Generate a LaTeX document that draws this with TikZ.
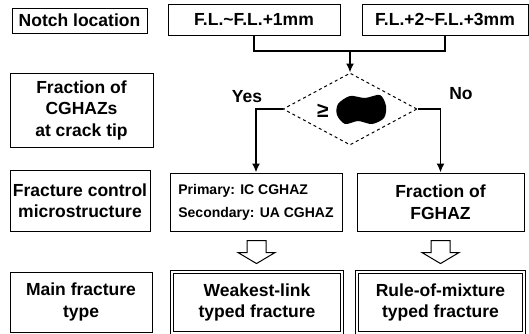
\documentclass[tikz,border=0pt]{standalone}
\usepackage{fontspec}
\setmainfont{Liberation Sans}
\usetikzlibrary{arrows.meta, positioning, calc, shapes.geometric}

\tikzset{
  stagebox/.style={draw, line width=1pt, inner sep=0pt, align=center,
    font=\fontsize{17.5}{21.5}\selectfont\bfseries},
  finalbox/.style={stagebox, double, double distance=1.6pt, line width=0.8pt},
  flowline/.style={line width=1.7pt},
  flowarrow/.style={flowline, -{Latex[length=9pt, width=8pt]}},
  hollowarrow/.style={draw, line width=1pt, fill=white, line join=miter},
  lbl/.style={font=\fontsize{17.5}{21.5}\selectfont\bfseries}
}

\begin{document}
\begin{tikzpicture}[x=1pt, y=-1pt]
    \useasboundingbox (0,0) rectangle (529,333);

    % Left column: stages
    \node[stagebox, minimum width=135pt, minimum height=25pt] (notch) at (79.5,20.5) {Notch location};
    \node[stagebox, minimum width=143pt, minimum height=74pt] (frac) at (81.5,110) {Fraction of\\CGHAZs\\at crack tip};
    \node[stagebox, minimum width=140pt, minimum height=61pt] (fcm) at (80,200.5) {Fracture control\\microstructure};
    \node[stagebox, minimum width=142pt, minimum height=60pt] (main) at (81,302) {Main fracture\\type};

    % Notch locations
    \node[stagebox, minimum width=172pt, minimum height=31pt] (fla) at (254,19.5) {F.L.\char"007E F.L.+1mm};
    \node[stagebox, minimum width=166pt, minimum height=31pt] (flb) at (445,19.5) {F.L.+2\char"007E F.L.+3mm};

    % Decision
    \node[diamond, draw, dashed, line width=1pt, minimum width=134pt, minimum height=72pt, inner sep=0pt] (dec) at (350,109) {};
    \node[lbl, font=\fontsize{21}{21}\selectfont\bfseries] (geq) at (323,111) {≥};
    \fill plot[smooth cycle] coordinates {(338,104) (350,96) (365,98) (380,95) (386,106) (384,118) (372,124) (358,121) (345,124) (337,115)};
    \node[lbl] (yes) at (247,97) {Yes};
    \node[lbl] (no) at (461,94) {No};

    % Microstructure
    \node[stagebox, minimum width=172pt, minimum height=58pt, font=\fontsize{14}{23}\selectfont\bfseries, align=left] (prim) at (256,202) {Primary: IC CGHAZ\\Secondary: UA CGHAZ};
    \node[stagebox, minimum width=167pt, minimum height=58pt] (fgh) at (440.5,202) {Fraction of\\FGHAZ};

    % Fracture types
    \node[finalbox, minimum width=170pt, minimum height=61pt] (weak) at (257,302.5) {Weakest-link\\typed fracture};
    \node[finalbox, minimum width=167pt, minimum height=61pt] (rule) at (440.5,302.5) {Rule-of-mixture\\typed fracture};

    % Connectors
    \coordinate (join) at (350,51);
    \draw[flowline] (fla.south) |- (join) -| (flb.south);
    \draw[flowarrow] (join) -- (dec.north);
    \draw[flowarrow] (dec.west) -| (prim.north);
    \draw[flowarrow] (dec.east) -| (fgh.north);

    % Hollow arrows
    \coordinate (ha) at ($(prim.south)!0.5!(weak.north)$);
    \coordinate (hb) at ($(fgh.south)!0.5!(rule.north)$);
    \foreach \h in {ha, hb} {
      \draw[hollowarrow] ($(\h)+(-9.5,-11)$) -- ($(\h)+(9.5,-11)$) -- ($(\h)+(9.5,1)$)
        -- ($(\h)+(18.5,1)$) -- ($(\h)+(0,12)$) -- ($(\h)+(-18.5,1)$)
        -- ($(\h)+(-9.5,1)$) -- cycle;
    }
\end{tikzpicture}
\end{document}
